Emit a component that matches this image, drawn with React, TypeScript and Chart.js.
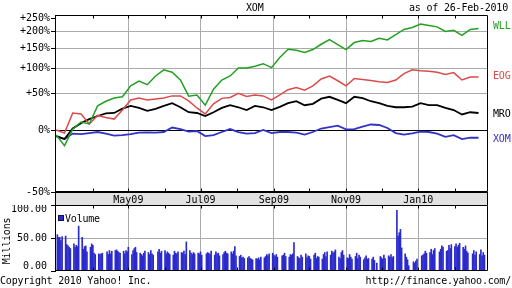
import React, { useEffect, useRef } from 'react';
import { Chart, registerables } from 'chart.js';

Chart.register(...registerables);

const FONT = "'DejaVu Sans Mono', monospace";

// day offsets (days since 1-Mar-2009) of the weekly samples
const lineDays = [0, 7, 14, 21, 28, 35, 42, 49, 56, 63, 70, 77, 84, 91, 98, 105, 112, 119, 126, 133, 140, 147, 154, 161, 168, 175, 182, 189, 196, 203, 210, 217, 224, 231, 238, 245, 252, 259, 266, 273, 280, 287, 294, 301, 308, 315, 322, 329, 336, 343, 350, 357];

// percent change
const wll = [-5.5, -16, 1, 9.4, 7, 31, 38, 43, 45, 64, 73, 66, 83, 96, 91, 75, 46, 48, 32, 58, 75, 83, 100, 100, 104, 110, 101, 125, 147, 144, 138, 146, 161, 175, 160, 146, 166, 172, 169, 179, 174, 191, 208, 215, 227, 222, 217, 201, 205, 188, 208, 211];
const eog = [0, -3.3, 21, 19.7, 7, 17.7, 15, 13, 25, 40, 43, 40, 41.6, 43, 46.5, 46.5, 38.5, 28, 19.7, 34, 42.5, 44, 50.7, 45.5, 48, 46.5, 40, 48, 57, 61, 56, 64, 77, 83, 73.5, 64, 78, 76, 74, 71.5, 70, 75, 88, 96, 94, 93, 91, 86, 90, 75, 81, 81];
const mro = [-6.5, -9.6, 1.7, 8, 13, 17, 20.6, 21, 27, 31, 28, 24, 26.6, 31, 35, 29, 22, 21, 17, 22, 28, 32, 29, 25, 31, 29, 25, 29.5, 35, 38, 32, 34, 42, 45, 40, 35, 45, 43, 38, 35, 31, 29, 29, 30, 35, 32, 32, 28, 25, 19, 22, 21];
const xom = [-6.5, -9.6, -3.9, -4.4, -3.3, -2.2, -3.9, -6, -5.5, -4.4, -2.8, -2.6, -2.8, -2.2, 2.8, 1.1, -1.7, -1.1, -6.5, -5.5, -2.2, 1.1, -2.2, -3.9, -3.3, 0, -3.3, -2.2, -2.2, -2.8, -5, -2.2, 1.7, 3.4, 5, 0.8, 1.1, 4, 6.4, 5.8, 2.3, -3.3, -5, -3.6, -1.7, -2.2, -3.9, -7.3, -5.5, -9.6, -8.1, -8.3];

// daily volume (millions), one row per trading week Mon..Fri, starting week of 2-Mar-2009; null = holiday
const volumeWeeks: (number | null)[][] = [
  [55, 51, 51, 46, 52], [53, 40, 38, 36, 34], [41, 36, 39, 37, 68], [51, 33, 37, 38, 29],
  [36, 41, 39, 27, 25], [26, 25, 26, 27, null], [29, 25, 31, 26, 30], [31, 32, 30, 28, 27],
  [30, 26, 31, 29, 36], [25, 31, 34, 36, 28], [27, 25, 23, 27, 30], [28, 25, 31, 26, 24],
  [null, 29, 33, 27, 30], [31, 26, 29, 27, 25], [24, 30, 27, 26, 29], [28, 27, 30, 25, 44],
  [31, 27, 25, 28, 26], [27, 26, 29, 24, null], [26, 28, 27, 25, 30], [24, 29, 26, 27, 23],
  [25, 28, 30, 27, 26], [29, 26, 30, 37, 23], [22, 24, 20, 21, 19], [20, 22, 19, 18, 17],
  [19, 18, 20, 17, 21], [20, 22, 25, 23, 26], [27, 24, 22, 25, 21], [null, 23, 24, 27, 22],
  [21, 25, 24, 26, 43], [22, 20, 19, 24, 21], [26, 20, 23, 22, 18], [24, 27, 19, 22, 21],
  [18, 25, 28, 22, 29], [24, 30, 27, 29, 32], [21, 19, 28, 31, 24], [20, 19, 25, 21, 18],
  [22, 27, 19, 24, 21], [17, 20, 23, 18, 19], [18, 21, 16, null, 12], [22, 20, 18, 24, 19],
  [23, 21, 25, 20, 22], [92, 53, 58, 63, 35], [26, 21, 17, 8, null], [14, 12, 15, 18, null],
  [23, 24, 26, 30, 27], [28, 33, 25, 31, 34], [null, 29, 33, 38, 36], [30, 31, 39, 34, 40],
  [37, 41, 36, 39, 42], [36, 33, 38, 30, 27], [null, 26, 31, 24, 29], [25, 32, 23, 28, 24],
];

const monthTickDays = [61, 122, 184, 245, 306];
const monthTickLabels = ['May09', 'Jul09', 'Sep09', 'Nov09', 'Jan10'];
const monthMarkDays = [31, 61, 92, 122, 153, 184, 214, 245, 275, 306, 337];
const yTickPct = [-50, 0, 50, 100, 150, 200, 250];
const yTickLabels = ['-50%', '0%', '+50%', '+100%', '+150%', '+200%', '+250%'];
const volTicks = [0, 50, 100];
const volTickLabels = ['0.00', '50.00', '100.00'];

const GREEN = '#22a022';
const RED = '#dd4a4a';
const BLACK = '#000000';
const BLUE = '#3232c8';
const GRID = '#ababab';

const framePlugin = {
  id: 'frame',
  afterDraw(chart: any) {
    const { ctx, chartArea: a } = chart;
    ctx.save();
    ctx.strokeStyle = '#000';
    ctx.lineWidth = 1;
    const l = Math.round(a.left) + 0.5, r = Math.round(a.right) - 0.5;
    const t = Math.round(a.top) + 0.5, b = Math.round(a.bottom) - 0.5;
    ctx.beginPath();
    ctx.moveTo(l, t); ctx.lineTo(r, t); ctx.lineTo(r, b); ctx.lineTo(l, b); ctx.closePath();
    ctx.stroke();
    const xs = chart.scales.x;
    ctx.beginPath();
    monthMarkDays.forEach((d) => {
      const x = Math.round(xs.getPixelForValue(d)) + 0.5;
      ctx.moveTo(x, t); ctx.lineTo(x, t + 3);
      ctx.moveTo(x, b); ctx.lineTo(x, b - 3);
    });
    ctx.stroke();
    ctx.restore();
  },
};

const bandPlugin = {
  id: 'band',
  beforeDraw(chart: any) {
    const { ctx, chartArea: a, height } = chart;
    ctx.save();
    ctx.fillStyle = '#e2e2e2';
    ctx.fillRect(a.left, a.bottom, a.right - a.left, height - a.bottom);
    ctx.restore();
  },
  afterDraw(chart: any) {
    const { ctx, chartArea: a, height } = chart;
    ctx.save();
    ctx.strokeStyle = '#000';
    ctx.beginPath();
    const l = Math.round(a.left) + 0.5, r = Math.round(a.right) - 0.5;
    ctx.moveTo(l, a.bottom); ctx.lineTo(l, height);
    ctx.moveTo(r, a.bottom); ctx.lineTo(r, height);
    ctx.stroke();
    ctx.restore();
  },
};

const volLabelPlugin = {
  id: 'volLabels',
  afterDraw(chart: any) {
    const { ctx, chartArea: a } = chart;
    const ys = chart.scales.y;
    ctx.save();
    ctx.font = `10px ${FONT}`;
    ctx.fillStyle = '#000';
    ctx.textAlign = 'right';
    ctx.textBaseline = 'middle';
    volTicks.forEach((v, i) => {
      let y = ys.getPixelForValue(v);
      y = Math.min(Math.max(y, a.top + 4.5), a.bottom - 4.5);
      ctx.fillText(volTickLabels[i], 47, y);
    });
    ctx.restore();
  },
};

function lineSet(label: string, vals: number[], color: string, width: number) {
  return {
    label,
    data: lineDays.map((d, i) => ({ x: d, y: 1 + vals[i] / 100 })),
    borderColor: color,
    borderWidth: width,
    pointRadius: 0,
    tension: 0,
    fill: false,
  };
}

export default function App() {
  const mainRef = useRef<HTMLCanvasElement>(null);
  const volRef = useRef<HTMLCanvasElement>(null);

  useEffect(() => {
    const tickFont = { family: FONT, size: 10 };
    const main = new Chart(mainRef.current as HTMLCanvasElement, {
      type: 'line',
      data: {
        datasets: [
          lineSet('WLL', wll, GREEN, 1.5),
          lineSet('EOG', eog, RED, 1.5),
          lineSet('MRO', mro, BLACK, 1.8),
          lineSet('XOM', xom, BLUE, 1.8),
        ] as any,
      },
      options: {
        animation: false,
        responsive: false,
        events: [],
        layout: { padding: { left: 0, right: 24, top: 15, bottom: 0 } },
        plugins: { legend: { display: false }, tooltip: { enabled: false } },
        scales: {
          x: {
            type: 'linear',
            min: -1,
            max: 365,
            afterBuildTicks: (s: any) => { s.ticks = monthTickDays.map((v) => ({ value: v })); },
            afterFit: (s: any) => { s.height = 13; },
            grid: { color: GRID, drawTicks: false },
            border: { display: false },
            ticks: {
              autoSkip: false, maxRotation: 0, padding: 2, color: '#000', font: tickFont,
              callback: (v: any) => { const i = monthTickDays.indexOf(Number(v)); return i >= 0 ? monthTickLabels[i] : ''; },
            },
          },
          y: {
            type: 'logarithmic',
            min: 0.5,
            max: 3.62,
            afterBuildTicks: (s: any) => { s.ticks = yTickPct.map((p) => ({ value: 1 + p / 100 })); },
            afterFit: (s: any) => { s.width = 55; },
            grid: {
              color: (c: any) => {
                const v = c.tick ? c.tick.value : 0;
                if (Math.abs(v - 1) < 1e-6 || Math.abs(v - 0.5) < 1e-6) return '#000';
                if (Math.abs(v - 3.5) < 1e-6) return 'rgba(0,0,0,0)';
                return GRID;
              },
              tickColor: '#000',
              tickLength: 4,
              drawTicks: true,
            },
            border: { color: '#000' },
            ticks: {
              autoSkip: false, padding: 1, color: '#000', font: tickFont,
              callback: (v: any) => {
                const i = yTickPct.findIndex((p) => Math.abs(1 + p / 100 - Number(v)) < 1e-6);
                return i >= 0 ? yTickLabels[i] : '';
              },
            },
          },
        },
      } as any,
      plugins: [bandPlugin, framePlugin],
    });

    const volPoints: { x: number; y: number }[] = [];
    volumeWeeks.forEach((week, w) => {
      week.forEach((v, d) => {
        if (v !== null) volPoints.push({ x: 1 + 7 * w + d, y: v });
      });
    });

    const vol = new Chart(volRef.current as HTMLCanvasElement, {
      type: 'bar',
      data: {
        datasets: [{ data: volPoints, backgroundColor: '#2b2bcc', borderWidth: 0, barThickness: 1 } as any],
      },
      options: {
        animation: false,
        responsive: false,
        events: [],
        layout: { padding: { left: 0, right: 24, top: 0, bottom: 17 } },
        plugins: { legend: { display: false }, tooltip: { enabled: false } },
        scales: {
          x: {
            type: 'linear',
            min: -1,
            max: 365,
            offset: false,
            afterBuildTicks: (s: any) => { s.ticks = monthTickDays.map((v) => ({ value: v })); },
            afterFit: (s: any) => { s.height = 0; },
            grid: { color: GRID, drawTicks: false, offset: false },
            border: { display: false },
            ticks: { display: false },
          },
          y: {
            min: 0,
            max: 100,
            afterBuildTicks: (s: any) => { s.ticks = volTicks.map((v) => ({ value: v })); },
            afterFit: (s: any) => { s.width = 55; },
            grid: {
              color: (c: any) => (c.tick && c.tick.value === 50 ? GRID : 'rgba(0,0,0,0)'),
              tickColor: '#000',
              tickLength: 4,
              drawTicks: true,
            },
            border: { color: '#000' },
            ticks: { display: false },
          },
        },
      } as any,
      plugins: [framePlugin, volLabelPlugin],
    });

    return () => { main.destroy(); vol.destroy(); };
  }, []);

  const txt: React.CSSProperties = {
    position: 'absolute',
    fontFamily: FONT,
    fontSize: '10px',
    letterSpacing: '-0.2px',
    lineHeight: '10px',
    whiteSpace: 'nowrap',
    color: '#000',
  };

  return (
    <div style={{ position: 'fixed', left: 0, top: 0, width: 512, height: 288, background: '#fff', overflow: 'hidden' }}>
      <canvas ref={mainRef} width={512} height={205} style={{ position: 'absolute', left: 0, top: 0, width: 512, height: 205 }} />
      <canvas ref={volRef} width={512} height={83} style={{ position: 'absolute', left: 0, top: 205, width: 512, height: 83 }} />
      <div style={{ ...txt, left: 246, top: 3 }}>XOM</div>
      <div style={{ ...txt, right: 4, top: 3 }}>as of 26-Feb-2010</div>
      <div style={{ ...txt, left: 493, top: 21, color: GREEN }}>WLL</div>
      <div style={{ ...txt, left: 493, top: 71, color: RED }}>EOG</div>
      <div style={{ ...txt, left: 493, top: 109, color: BLACK }}>MRO</div>
      <div style={{ ...txt, left: 493, top: 134, color: BLUE }}>XOM</div>
      <div style={{ position: 'absolute', left: 58, top: 215, width: 6, height: 6, boxSizing: 'border-box', background: '#2b2bcc', border: '1px solid #10104a' }} />
      <div style={{ ...txt, left: 65, top: 214 }}>Volume</div>
      <div style={{ ...txt, left: -17, top: 236, width: 48, textAlign: 'center', transform: 'rotate(-90deg)' }}>Millions</div>
      <div style={{ ...txt, left: 0, top: 276 }}>Copyright 2010 Yahoo! Inc.</div>
      <div style={{ ...txt, right: 1, top: 276 }}>http://finance.yahoo.com/</div>
    </div>
  );
}
